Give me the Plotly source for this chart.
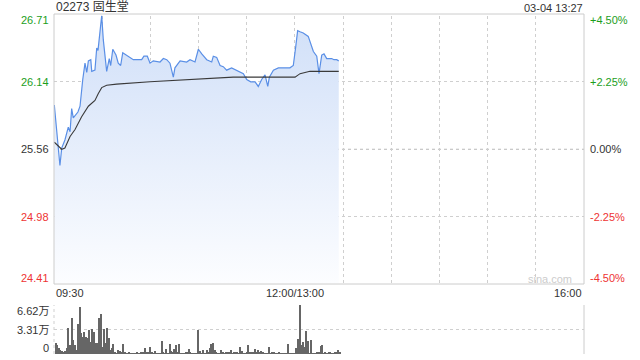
import plotly.graph_objects as go

# ---------------- data ----------------
title_text = "02273 固生堂"
stamp_text = "03-04 13:27"

# minutes since 09:30 (lunch break collapsed: 12:00 == 13:00 == minute 150)
price_minutes = [0.2, 3.7, 4.8, 6.8, 8.9, 10.0, 11.0, 12.0, 14.9, 16.2, 17.9, 19.3, 20.4, 21.4,
                 22.9, 23.5, 25.5, 26.6, 27.4, 28.6, 29.7, 30.7, 32.8, 34.4, 35.3, 36.6, 38.6,
                 40.0, 41.5, 42.8, 45.3, 49.4, 54.6, 56.0, 58.1, 59.8, 61.8, 66.0, 68.1, 70.2,
                 72.2, 74.3, 75.3, 78.5, 82.6, 84.7, 87.8, 89.9, 92.0, 95.1, 98.2, 99.2, 101.3,
                 103.4, 105.4, 107.5, 110.6, 113.8, 117.9, 120.0, 122.5, 125.2, 127.2, 129.3,
                 131.4, 133.1, 134.1, 136.6, 139.7, 146.9, 149.0, 150.5, 151.7, 153.2, 155.2,
                 158.3, 161.5, 163.6, 165.0, 166.7, 168.1, 169.8, 172.9, 174.3, 176.0, 177.3]
price_values = [25.94, 25.42, 25.57, 25.64, 25.75, 25.71, 25.91, 25.83, 25.88, 25.93, 26.16,
                26.30, 26.22, 26.32, 26.33, 26.23, 26.24, 26.43, 26.41, 26.56, 26.71, 26.50,
                26.23, 26.34, 26.28, 26.42, 26.37, 26.30, 26.28, 26.39, 26.37, 26.33, 26.33,
                26.36, 26.36, 26.30, 26.32, 26.31, 26.34, 26.33, 26.30, 26.18, 26.26, 26.32,
                26.31, 26.33, 26.31, 26.42, 26.38, 26.33, 26.31, 26.36, 26.35, 26.28, 26.27,
                26.24, 26.26, 26.24, 26.21, 26.16, 26.14, 26.14, 26.10, 26.16, 26.20, 26.10,
                26.18, 26.24, 26.26, 26.26, 26.28, 26.44, 26.58, 26.57, 26.56, 26.53, 26.40,
                26.36, 26.21, 26.37, 26.38, 26.34, 26.34, 26.33, 26.33, 26.32]

avg_minutes = [0.2, 2.7, 4.8, 6.8, 10.0, 13.1, 17.2, 21.4, 25.5, 27.6, 29.7, 32.8, 39.0,
               59.8, 88.9, 111.6, 150.1, 153.2, 159.4, 177.3]
avg_values = [25.62, 25.59, 25.56, 25.57, 25.67, 25.73, 25.84, 25.93, 25.98, 26.04, 26.09,
              26.11, 26.12, 26.14, 26.16, 26.18, 26.18, 26.21, 26.23, 26.23]

# volume per minute, unit: 万 shares
volume_values = [
    0.00, 1.53, 1.22, 0.77, 0.54, 0.40, 0.32, 0.45, 0.77, 3.47, 1.22, 4.82, 1.89, 1.22, 0.54,
    4.05, 6.39, 2.79, 2.34, 3.02, 2.34, 2.12, 3.24, 1.67, 3.33, 3.02, 1.53, 1.44, 4.82, 5.40,
    0.99, 3.33, 1.44, 3.47, 2.12, 0.54, 0.77, 1.31, 0.18, 0.09, 0.54, 0.41, 0.15, 1.35, 0.18,
    0.10, 0.09, 0.18, 0.09, 0.09, 0.10, 0.09, 0.18, 0.09, 0.31, 0.31, 0.20, 0.77, 0.31, 0.18,
    0.90, 0.18, 0.05, 0.40, 0.10, 0.09, 0.09, 1.76, 0.18, 0.09, 0.63, 0.10, 1.35, 0.45, 0.31,
    0.63, 1.22, 0.31, 1.35, 0.09, 0.09, 0.09, 0.18, 0.31, 0.63, 0.31, 0.09, 0.09, 0.09, 0.09,
    3.24, 0.45, 0.09, 0.54, 0.09, 0.54, 0.20, 0.77, 1.31, 1.53, 0.54, 0.31, 0.09, 0.09, 0.54,
    0.18, 0.09, 0.18, 0.31, 0.18, 0.54, 0.09, 0.18, 0.31, 0.18, 0.10, 0.90, 0.45, 0.09, 0.09,
    0.18, 1.22, 0.18, 0.31, 0.18, 0.63, 0.31, 0.54, 0.18, 0.45, 0.18, 0.09, 0.09, 0.09, 0.90,
    0.09, 0.18, 0.31, 0.09, 0.09, 0.18, 0.09, 0.09, 0.09, 0.09, 0.09, 1.35, 0.09, 0.09, 0.09,
    0.09, 0.77, 1.98, 6.62, 1.22, 1.58, 0.90, 3.10, 1.71, 0.09, 1.89, 0.09, 0.09, 0.09, 0.18,
    0.31, 1.08, 1.22, 0.10, 0.18, 0.09, 0.31, 0.18, 0.09, 0.09, 0.31, 0.31, 0.54, 0.18]
volume_minutes = list(range(len(volume_values)))

price_ticks = [26.71, 26.14, 25.56, 24.98, 24.41]
price_tick_labels = ["26.71", "26.14", "25.56", "24.98", "24.41"]
pct_tick_labels = ["+4.50%", "+2.25%", "0.00%", "-2.25%", "-4.50%"]
prev_close = 25.56

volume_ticks = [6.62, 3.31, 0]
volume_tick_labels = ["6.62万", "3.31万", "0"]

time_grid = [0, 30, 60, 90, 120, 150, 180, 210, 240, 270, 300, 330]
time_label_pos = [0, 150, 330]
time_labels = ["09:30", "12:00/13:00", "16:00"]

# ---------------- layout helpers ----------------
W, H = 640, 360
def px(x):
    return x / W
def py(y):
    return 1 - y / H

X0, X1 = 54, 584
P_TOP, P_BOT = 15.5, 283.0      # axis domain of the price panel
F_TOP, F_BOT = 14, 284          # frame of the price panel
V_TOP, V_BOT = 305, 354         # volume panel

FONT = "Liberation Sans, Arial, Noto Sans CJK SC, sans-serif"
GREEN = "#1c9e1c"
RED = "#ee3333"
DARK = "#333333"
GRID = "#cfcfcf"

fig = go.Figure()

# baseline for fill
fig.add_trace(go.Scatter(x=[price_minutes[0], price_minutes[-1]], y=[price_ticks[-1], price_ticks[-1]],
                         mode="lines", line=dict(width=0, color="rgba(0,0,0,0)"),
                         hoverinfo="skip", showlegend=False, xaxis="x", yaxis="y"))
fig.add_trace(go.Scatter(x=price_minutes, y=price_values, mode="lines",
                         line=dict(color="#5a8fe6", width=1.2),
                         fill="tonexty",
                         fillgradient=dict(type="vertical", start=price_ticks[-1], stop=price_ticks[0],
                                           colorscale=[[0, "rgba(252,253,255,1)"],
                                                       [1, "rgba(208,223,248,1)"]]),
                         showlegend=False, xaxis="x", yaxis="y"))
fig.add_trace(go.Scatter(x=avg_minutes, y=avg_values, mode="lines",
                         line=dict(color="#3a3a3a", width=1.1),
                         showlegend=False, xaxis="x", yaxis="y"))

fig.add_trace(go.Bar(x=volume_minutes, y=volume_values, width=0.7,
                     marker=dict(color="#666666", line=dict(width=0)),
                     showlegend=False, xaxis="x2", yaxis="y2"))

grid_ticks = [t for t in price_ticks if t != prev_close]

fig.update_layout(
    width=W, height=H, margin=dict(l=0, r=0, t=0, b=0),
    paper_bgcolor="white", plot_bgcolor="rgba(0,0,0,0)",
    bargap=0,
    xaxis=dict(domain=[px(X0), px(X1)], range=[0, 330], tickvals=time_grid,
               showticklabels=False, showgrid=True, gridcolor=GRID, griddash="dot",
               zeroline=False, showline=False, anchor="y", fixedrange=True),
    yaxis=dict(domain=[py(P_BOT), py(P_TOP)], range=[price_ticks[-1], price_ticks[0]],
               tickvals=grid_ticks, showticklabels=False, showgrid=True, gridcolor=GRID,
               griddash="dot", zeroline=False, showline=False, anchor="x", fixedrange=True),
    xaxis2=dict(domain=[px(X0), px(X1)], range=[0, 330], showticklabels=False,
                showgrid=False, zeroline=False, showline=False, anchor="y2", fixedrange=True),
    yaxis2=dict(domain=[py(V_BOT), py(V_TOP)], range=[0, volume_ticks[0]],
                tickvals=volume_ticks, showticklabels=False, showgrid=True, gridcolor=GRID,
                griddash="dot", zeroline=False, showline=False, anchor="x2", fixedrange=True),
)

shapes = []
# previous close line (dashed)
shapes.append(dict(type="line", xref="paper", yref="y", x0=px(X0), x1=px(X1), y0=prev_close, y1=prev_close,
                   line=dict(color="#b8b8b8", width=1, dash="3px,3px"), layer="below"))
# price frame
shapes.append(dict(type="rect", xref="paper", yref="paper", x0=px(X0), x1=px(X1), y0=py(F_BOT), y1=py(F_TOP),
                   line=dict(color="#cccccc", width=1), fillcolor="rgba(0,0,0,0)", layer="above"))
# volume frame: dotted left, solid right
shapes.append(dict(type="line", xref="paper", yref="paper", x0=px(X0), x1=px(X0), y0=py(V_BOT), y1=py(V_TOP),
                   line=dict(color=GRID, width=1, dash="dot")))
shapes.append(dict(type="line", xref="paper", yref="paper", x0=px(X1), x1=px(X1), y0=py(V_BOT), y1=py(V_TOP),
                   line=dict(color="#cccccc", width=1)))
fig.update_layout(shapes=shapes)

ann = []
ann.append(dict(text=title_text, xref="paper", yref="paper", x=px(54), y=py(7), xanchor="left",
                yanchor="middle", showarrow=False, font=dict(family=FONT, size=12, color=DARK)))
ann.append(dict(text=stamp_text, xref="paper", yref="paper", x=px(585), y=py(8), xanchor="right",
                yanchor="middle", showarrow=False, font=dict(family=FONT, size=11, color=DARK)))

for i, (v, lab, pl) in enumerate(zip(price_ticks, price_tick_labels, pct_tick_labels)):
    if v > prev_close:
        col = GREEN
    elif v < prev_close:
        col = RED
    else:
        col = DARK
    shift = 0
    if i == 0:
        shift = -5
    elif i == len(price_ticks) - 1:
        shift = 5
    ann.append(dict(text=lab, xref="paper", yref="y", x=px(51), y=v, xanchor="right", yanchor="middle",
                    yshift=shift, showarrow=False, font=dict(family=FONT, size=11, color=col)))
    ann.append(dict(text=pl, xref="paper", yref="y", x=px(588), y=v, xanchor="left", yanchor="middle",
                    yshift=shift, showarrow=False, font=dict(family=FONT, size=11, color=col)))

for i, (v, lab) in enumerate(zip(volume_ticks, volume_tick_labels)):
    shift = 0
    if i == 0:
        shift = -6
    elif i == len(volume_ticks) - 1:
        shift = 6
    ann.append(dict(text=lab, xref="paper", yref="y2", x=px(51), y=v, xanchor="right", yanchor="middle",
                    yshift=shift, showarrow=False, font=dict(family=FONT, size=11, color=DARK)))

anchors = ["left", "center", "right"]
for pos, lab, a in zip(time_label_pos, time_labels, anchors):
    ann.append(dict(text=lab, xref="x", yref="paper", x=pos, y=py(293), xanchor=a, yanchor="middle",
                    showarrow=False, font=dict(family=FONT, size=11, color=DARK)))

ann.append(dict(text="sina.com", xref="paper", yref="paper", x=px(574), y=py(279), xanchor="right",
                yanchor="middle", showarrow=False, font=dict(family=FONT, size=11, color="#cccccc")))

fig.update_layout(annotations=ann)

fig.write_html("out.html")
